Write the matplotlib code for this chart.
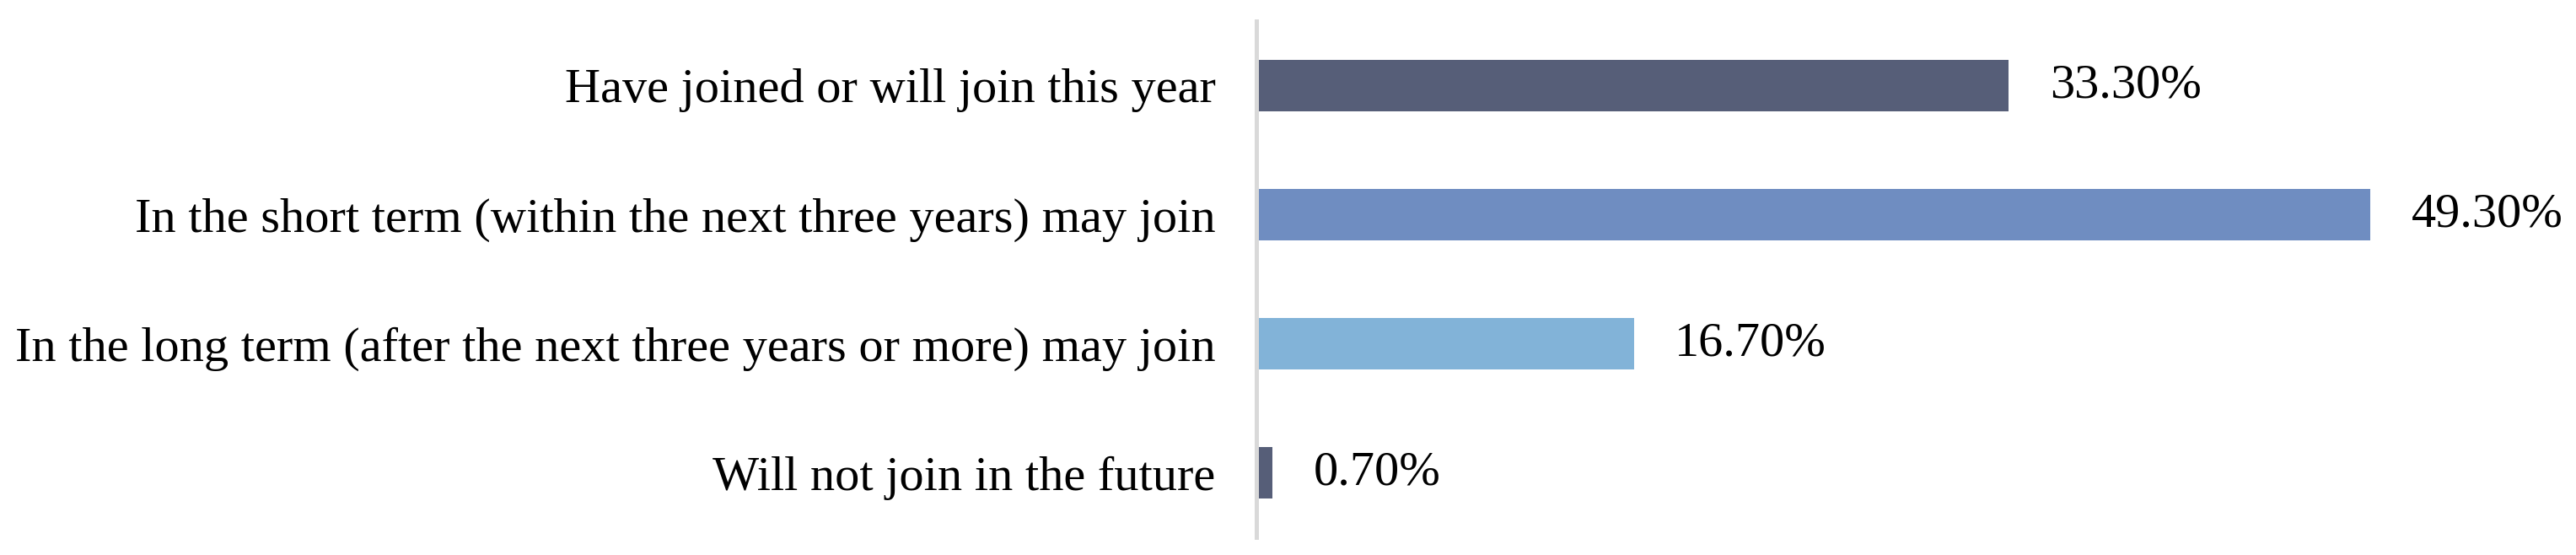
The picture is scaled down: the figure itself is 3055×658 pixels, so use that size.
import matplotlib.pyplot as plt

# data
categories = [
    'Have joined or will join this year',
    'In the short term (within the next three years) may join',
    'In the long term (after the next three years or more) may join',
    'Will not join in the future',
]
values = [33.3, 49.3, 16.7, 0.7]
value_labels = ['33.30%', '49.30%', '16.70%', '0.70%']
colors = ['#565e78', '#6f8dc1', '#82b3d8', '#565e78']

plt.rcParams['font.family'] = ['Liberation Serif', 'DejaVu Serif']

fig = plt.figure(figsize=(30.55, 6.58), dpi=100)
ax = fig.add_axes([1490 / 3055, 0.032, 0.5, 0.930])

y = list(range(len(categories)))
ax.barh(y, values, height=0.4, color=colors)

for yi, v, lab in zip(y, values, value_labels):
    ax.annotate(lab, (v, yi), xytext=(35, 0), textcoords='offset points',
                ha='left', va='center', fontsize=42, clip_on=False)

ax.set_yticks(y)
ax.set_yticklabels(categories, fontsize=42)
ax.tick_params(axis='y', length=0, pad=35)
ax.set_xticks([])
ax.set_xlim(0, 57)
ax.set_ylim(3.5, -0.5)

for s in ['top', 'right', 'bottom']:
    ax.spines[s].set_visible(False)
ax.spines['left'].set_color('#d9d9d9')
ax.spines['left'].set_linewidth(3.6)

fig.savefig('out.png', dpi=100)
